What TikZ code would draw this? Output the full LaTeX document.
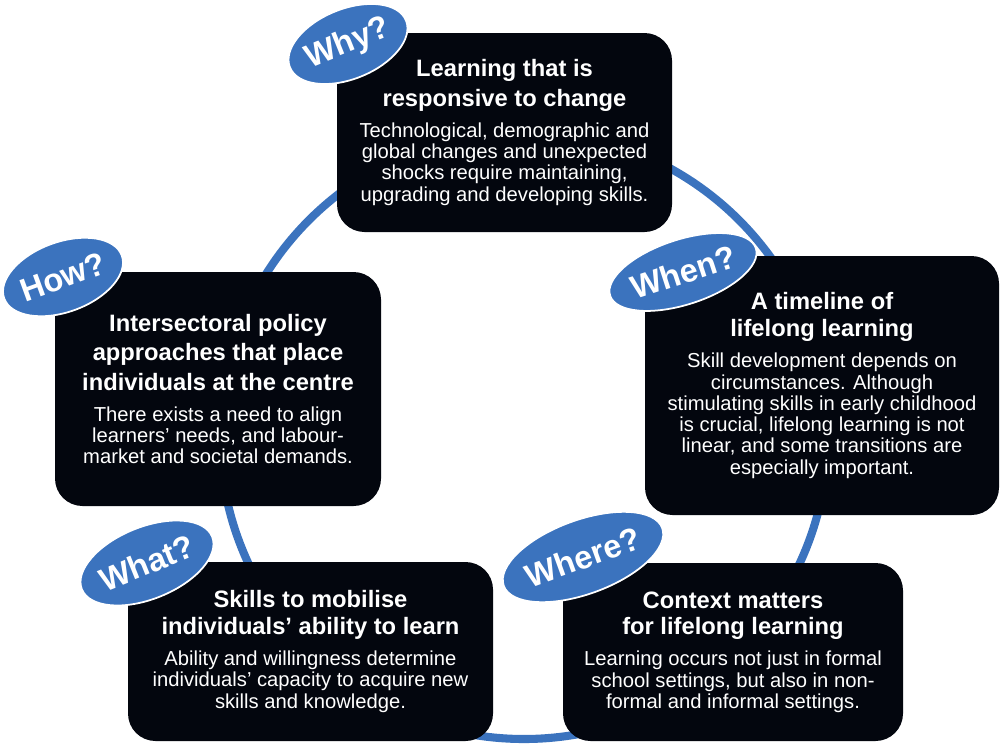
\documentclass[tikz,border=0pt]{standalone}
\usepackage{fontspec}
\setmainfont{Liberation Sans}
\usetikzlibrary{shapes.geometric}
\usetikzlibrary{positioning,calc}
\definecolor{qblue}{RGB}{59,115,190}
\definecolor{boxblack}{RGB}{3,6,14}
\newcommand\ttl[1]{{\fontsize{13.5}{15}\selectfont\bfseries #1}}

\begin{document}
\begin{tikzpicture}

		\def\rad{6.08}
		\def\gap{3.2pt}

		\tikzset{ring/.style={draw=qblue,line width=4.6pt}}
		\tikzset{card/.style={shape=rectangle,fill=boxblack,text=white,rounded corners=0.55cm,align=center,inner sep=0pt,font=\fontsize{11.5}{12.1}\selectfont}}
		\tikzset{ask/.style={shape=ellipse,fill=qblue,draw=white,line width=1pt,text=white,inner sep=0pt,font=\fontsize{18.5}{20}\selectfont\bfseries}}

		\useasboundingbox (0,0) rectangle (20,-14.92);

		% ring behind the cards
		\coordinate (ctr) at (10.48, -8.70);
		\draw[ring] (ctr) circle (\rad);

		\node[card,minimum width=6.70cm,minimum height=3.98cm] (why) at (10.09, -2.65)
			{\ttl{Learning that is}\\[\gap]\ttl{responsive to change}\\[5.5pt]
			Technological, demographic and\\global changes and unexpected\\shocks require maintaining,\\upgrading and developing skills.};

		\node[card,minimum width=7.08cm,minimum height=5.18cm] (when) at (16.44, -7.71)
			{\ttl{A timeline of}\\[\gap]\ttl{lifelong learning}\\[5.5pt]
			Skill development depends on\\circumstances. Although\\stimulating skills in early childhood\\is crucial, lifelong learning is not\\linear, and some transitions are\\especially important.};

		\node[card,minimum width=6.52cm,minimum height=4.68cm] (how) at (4.36, -7.78)
			{\ttl{Intersectoral policy}\\[\gap]\ttl{approaches that place}\\[\gap]\ttl{individuals at the centre}\\[5.5pt]
			There exists a need to align\\learners’ needs, and labour-\\market and societal demands.};

		\node[card,minimum width=7.30cm,minimum height=3.58cm] (what) at (6.21, -13.03)
			{\ttl{Skills to mobilise}\\[\gap]\ttl{individuals’ ability to learn}\\[5.5pt]
			Ability and willingness determine\\individuals’ capacity to acquire new\\skills and knowledge.};

		\node[card,minimum width=6.80cm,minimum height=3.56cm] (where) at (14.66, -13.04)
			{\ttl{Context matters}\\[\gap]\ttl{for lifelong learning}\\[5.5pt]
			Learning occurs not just in formal\\school settings, but also in non-\\formal and informal settings.};

		% question bubbles
		\node[ask,minimum width=2.48cm,minimum height=1.40cm,rotate=22] (qwhy) at (6.96, -0.88) {Why?};
		\node[ask,minimum width=2.96cm,minimum height=1.30cm,rotate=18] (qwhen) at (13.66, -5.44) {When?};
		\node[ask,minimum width=2.48cm,minimum height=1.40cm,rotate=20] (qhow) at (1.26, -5.54) {How?};
		\node[ask,minimum width=2.44cm,minimum height=1.44cm,rotate=22] (qwhat) at (2.94, -11.26) {What?};
		\node[ask,minimum width=3.00cm,minimum height=1.48cm,rotate=20] (qwhere) at (11.66, -11.14) {Where?};

	\end{tikzpicture}
\end{document}
